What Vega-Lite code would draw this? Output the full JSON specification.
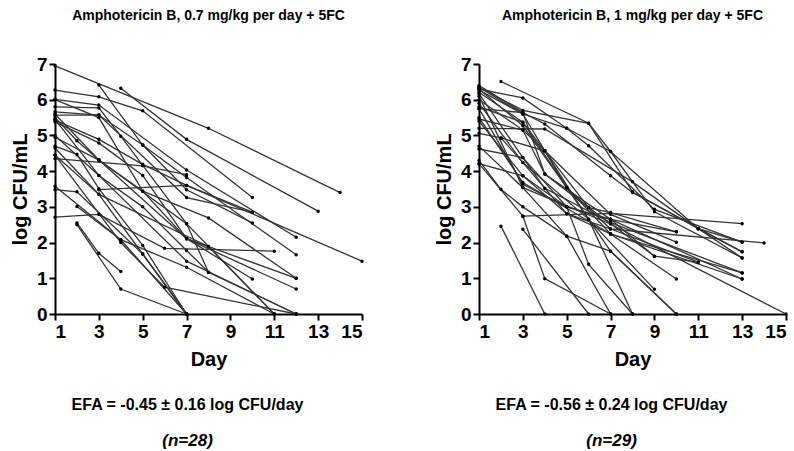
{
  "$schema": "https://vega.github.io/schema/vega-lite/v6.json",
  "padding": {"left": 10, "top": 9, "right": 0, "bottom": 0},
  "spacing": 69,
  "config": {
    "view": {"stroke": null},
    "font": "Liberation Sans",
    "axis": {
      "grid": false,
      "domainColor": "#000",
      "domainWidth": 2,
      "tickColor": "#000",
      "tickWidth": 2,
      "tickSize": 6,
      "labelColor": "#000",
      "labelFont": "Liberation Sans",
      "labelFontSize": 19,
      "labelFontWeight": "bold",
      "titleColor": "#000",
      "titleFont": "Liberation Sans",
      "titleFontSize": 20,
      "titleFontWeight": "bold"
    },
    "title": {"font": "Liberation Sans", "color": "#000"}
  },
  "datasets": {
    "left": [
      {"id": 1, "day": 1, "v": 6.95}, {"id": 1, "day": 8, "v": 5.2}, {"id": 1, "day": 14, "v": 3.4},
      {"id": 2, "day": 3, "v": 6.41}, {"id": 2, "day": 5, "v": 4.73}, {"id": 2, "day": 7, "v": 3.48}, {"id": 2, "day": 10, "v": 2.55},
      {"id": 3, "day": 4, "v": 6.32}, {"id": 3, "day": 7, "v": 4.89}, {"id": 3, "day": 13, "v": 2.88},
      {"id": 4, "day": 1, "v": 6.27}, {"id": 4, "day": 3, "v": 6.08}, {"id": 4, "day": 5, "v": 5.69}, {"id": 4, "day": 10, "v": 3.26},
      {"id": 5, "day": 1, "v": 6.01}, {"id": 5, "day": 3, "v": 5.85}, {"id": 5, "day": 7, "v": 4.03}, {"id": 5, "day": 12, "v": 2.15},
      {"id": 6, "day": 1, "v": 5.8}, {"id": 6, "day": 3, "v": 5.77}, {"id": 6, "day": 4, "v": 4.98}, {"id": 6, "day": 7, "v": 2.53}, {"id": 6, "day": 11, "v": 0},
      {"id": 7, "day": 1, "v": 5.66}, {"id": 7, "day": 3, "v": 5.57}, {"id": 7, "day": 5, "v": 4.73}, {"id": 7, "day": 7, "v": 3.82}, {"id": 7, "day": 12, "v": 1.66},
      {"id": 8, "day": 1, "v": 5.57}, {"id": 8, "day": 3, "v": 5.57}, {"id": 8, "day": 7, "v": 3.26}, {"id": 8, "day": 10, "v": 2.85},
      {"id": 9, "day": 1, "v": 5.43}, {"id": 9, "day": 3, "v": 4.89}, {"id": 9, "day": 5, "v": 4.19}, {"id": 9, "day": 7, "v": 3.6}, {"id": 9, "day": 15, "v": 1.48},
      {"id": 10, "day": 1, "v": 5.38}, {"id": 10, "day": 3, "v": 4.79}, {"id": 10, "day": 5, "v": 3.88}, {"id": 10, "day": 7, "v": 2.11}, {"id": 10, "day": 12, "v": 0.7},
      {"id": 11, "day": 1, "v": 5.5}, {"id": 11, "day": 2, "v": 4.85}, {"id": 11, "day": 3, "v": 4.31}, {"id": 11, "day": 5, "v": 3.44}, {"id": 11, "day": 8, "v": 2.69}, {"id": 11, "day": 12, "v": 1.0},
      {"id": 12, "day": 1, "v": 4.35}, {"id": 12, "day": 5, "v": 4.15}, {"id": 12, "day": 7, "v": 3.9},
      {"id": 13, "day": 1, "v": 5.0}, {"id": 13, "day": 3, "v": 3.88}, {"id": 13, "day": 5, "v": 3.0}, {"id": 13, "day": 7, "v": 1.78}, {"id": 13, "day": 8, "v": 1.17},
      {"id": 14, "day": 1, "v": 4.7}, {"id": 14, "day": 2, "v": 4.47}, {"id": 14, "day": 3, "v": 3.51}, {"id": 14, "day": 5, "v": 1.92}, {"id": 14, "day": 7, "v": 0},
      {"id": 15, "day": 1, "v": 4.45}, {"id": 15, "day": 3, "v": 3.35}, {"id": 15, "day": 5, "v": 1.68}, {"id": 15, "day": 7, "v": 0},
      {"id": 16, "day": 3, "v": 3.48}, {"id": 16, "day": 7, "v": 3.6}, {"id": 16, "day": 10, "v": 2.85},
      {"id": 17, "day": 1, "v": 3.48}, {"id": 17, "day": 2, "v": 3.42}, {"id": 17, "day": 5, "v": 1.68}, {"id": 17, "day": 7, "v": 0},
      {"id": 18, "day": 1, "v": 3.58}, {"id": 18, "day": 4, "v": 2.08}, {"id": 18, "day": 7, "v": 0},
      {"id": 19, "day": 1, "v": 2.71}, {"id": 19, "day": 3, "v": 2.79}, {"id": 19, "day": 6, "v": 1.84}, {"id": 19, "day": 11, "v": 1.76},
      {"id": 20, "day": 2, "v": 3.01}, {"id": 20, "day": 4, "v": 2.08}, {"id": 20, "day": 7, "v": 1.31}, {"id": 20, "day": 11, "v": 0},
      {"id": 21, "day": 2, "v": 2.55}, {"id": 21, "day": 3, "v": 1.7}, {"id": 21, "day": 4, "v": 1.19},
      {"id": 22, "day": 2, "v": 2.5}, {"id": 22, "day": 4, "v": 0.7}, {"id": 22, "day": 7, "v": 0},
      {"id": 23, "day": 1, "v": 5.6}, {"id": 23, "day": 3, "v": 4.31}, {"id": 23, "day": 7, "v": 2.11}, {"id": 23, "day": 10, "v": 0.98},
      {"id": 24, "day": 1, "v": 5.45}, {"id": 24, "day": 3, "v": 3.88}, {"id": 24, "day": 7, "v": 1.48}, {"id": 24, "day": 12, "v": 0},
      {"id": 25, "day": 1, "v": 4.65}, {"id": 25, "day": 3, "v": 3.35}, {"id": 25, "day": 8, "v": 1.89}, {"id": 25, "day": 11, "v": 0},
      {"id": 26, "day": 1, "v": 4.95}, {"id": 26, "day": 3, "v": 4.31}, {"id": 26, "day": 7, "v": 2.53}, {"id": 26, "day": 8, "v": 1.17}, {"id": 26, "day": 12, "v": 0},
      {"id": 27, "day": 1, "v": 4.45}, {"id": 27, "day": 4, "v": 2.0}, {"id": 27, "day": 6, "v": 0.75}, {"id": 27, "day": 12, "v": 0},
      {"id": 28, "day": 1, "v": 6.0}, {"id": 28, "day": 3, "v": 5.5}, {"id": 28, "day": 5, "v": 3.44}, {"id": 28, "day": 7, "v": 2.11}, {"id": 28, "day": 12, "v": 1.0}
    ],
    "right": [
      {"id": 1, "day": 2, "v": 6.51}, {"id": 1, "day": 6, "v": 5.34}, {"id": 1, "day": 7, "v": 4.55}, {"id": 1, "day": 9, "v": 2.86}, {"id": 1, "day": 13, "v": 1.57},
      {"id": 2, "day": 1, "v": 6.3}, {"id": 2, "day": 3, "v": 6.05}, {"id": 2, "day": 5, "v": 5.2}, {"id": 2, "day": 7, "v": 4.55}, {"id": 2, "day": 11, "v": 2.39}, {"id": 2, "day": 13, "v": 2.01},
      {"id": 3, "day": 1, "v": 6.4}, {"id": 3, "day": 3, "v": 5.64}, {"id": 3, "day": 4, "v": 5.32}, {"id": 3, "day": 7, "v": 3.87}, {"id": 3, "day": 8, "v": 3.4}, {"id": 3, "day": 13, "v": 1.74},
      {"id": 4, "day": 1, "v": 6.27}, {"id": 4, "day": 3, "v": 5.6}, {"id": 4, "day": 5, "v": 5.2}, {"id": 4, "day": 6, "v": 4.71}, {"id": 4, "day": 9, "v": 2.93}, {"id": 4, "day": 13, "v": 2.01},
      {"id": 5, "day": 1, "v": 6.21}, {"id": 5, "day": 3, "v": 5.37}, {"id": 5, "day": 5, "v": 3.54}, {"id": 5, "day": 7, "v": 2.24}, {"id": 5, "day": 13, "v": 1.15},
      {"id": 6, "day": 1, "v": 6.17}, {"id": 6, "day": 3, "v": 4.38}, {"id": 6, "day": 5, "v": 3.0}, {"id": 6, "day": 7, "v": 2.65}, {"id": 6, "day": 13, "v": 0.98},
      {"id": 7, "day": 1, "v": 5.75}, {"id": 7, "day": 3, "v": 5.64}, {"id": 7, "day": 4, "v": 3.92}, {"id": 7, "day": 6, "v": 2.98}, {"id": 7, "day": 7, "v": 2.84}, {"id": 7, "day": 10, "v": 2.3},
      {"id": 8, "day": 1, "v": 5.2}, {"id": 8, "day": 4, "v": 5.18}, {"id": 8, "day": 8, "v": 3.7}, {"id": 8, "day": 11, "v": 2.39}, {"id": 8, "day": 13, "v": 1.74},
      {"id": 9, "day": 1, "v": 5.46}, {"id": 9, "day": 3, "v": 5.15}, {"id": 9, "day": 4, "v": 4.57}, {"id": 9, "day": 7, "v": 2.79}, {"id": 9, "day": 10, "v": 2.01},
      {"id": 10, "day": 1, "v": 5.06}, {"id": 10, "day": 2, "v": 4.93}, {"id": 10, "day": 3, "v": 4.24}, {"id": 10, "day": 5, "v": 2.81}, {"id": 10, "day": 7, "v": 2.38}, {"id": 10, "day": 11, "v": 1.45},
      {"id": 11, "day": 1, "v": 4.62}, {"id": 11, "day": 3, "v": 4.38}, {"id": 11, "day": 4, "v": 3.52}, {"id": 11, "day": 7, "v": 2.56}, {"id": 11, "day": 13, "v": 1.15},
      {"id": 12, "day": 1, "v": 4.21}, {"id": 12, "day": 3, "v": 3.87}, {"id": 12, "day": 5, "v": 3.0}, {"id": 12, "day": 6, "v": 1.39}, {"id": 12, "day": 8, "v": 0},
      {"id": 13, "day": 1, "v": 4.3}, {"id": 13, "day": 2, "v": 3.49}, {"id": 13, "day": 3, "v": 3.0}, {"id": 13, "day": 5, "v": 2.18}, {"id": 13, "day": 7, "v": 1.76}, {"id": 13, "day": 10, "v": 0},
      {"id": 14, "day": 2, "v": 2.46}, {"id": 14, "day": 4, "v": 0},
      {"id": 15, "day": 3, "v": 2.37}, {"id": 15, "day": 6, "v": 0},
      {"id": 16, "day": 1, "v": 4.21}, {"id": 16, "day": 3, "v": 2.74}, {"id": 16, "day": 4, "v": 0.99}, {"id": 16, "day": 7, "v": 0},
      {"id": 17, "day": 3, "v": 2.74}, {"id": 17, "day": 7, "v": 2.82}, {"id": 17, "day": 13, "v": 2.53},
      {"id": 18, "day": 1, "v": 6.3}, {"id": 18, "day": 3, "v": 5.27}, {"id": 18, "day": 5, "v": 3.54}, {"id": 18, "day": 7, "v": 2.38}, {"id": 18, "day": 14, "v": 1.99},
      {"id": 19, "day": 1, "v": 5.75}, {"id": 19, "day": 3, "v": 3.63}, {"id": 19, "day": 5, "v": 3.0}, {"id": 19, "day": 7, "v": 2.65}, {"id": 19, "day": 9, "v": 1.62}, {"id": 19, "day": 11, "v": 1.45},
      {"id": 20, "day": 1, "v": 6.35}, {"id": 20, "day": 3, "v": 5.6}, {"id": 20, "day": 5, "v": 3.54}, {"id": 20, "day": 7, "v": 1.76}, {"id": 20, "day": 10, "v": 0},
      {"id": 21, "day": 1, "v": 5.9}, {"id": 21, "day": 3, "v": 4.24}, {"id": 21, "day": 6, "v": 2.65}, {"id": 21, "day": 9, "v": 0.69},
      {"id": 22, "day": 1, "v": 6.1}, {"id": 22, "day": 3, "v": 3.54}, {"id": 22, "day": 5, "v": 2.18}, {"id": 22, "day": 7, "v": 0},
      {"id": 23, "day": 1, "v": 5.5}, {"id": 23, "day": 3, "v": 3.68}, {"id": 23, "day": 7, "v": 2.24}, {"id": 23, "day": 10, "v": 0.98},
      {"id": 24, "day": 1, "v": 4.7}, {"id": 24, "day": 3, "v": 3.54}, {"id": 24, "day": 7, "v": 2.52}, {"id": 24, "day": 15, "v": 0},
      {"id": 25, "day": 1, "v": 6.35}, {"id": 25, "day": 3, "v": 5.7}, {"id": 25, "day": 6, "v": 5.34}, {"id": 25, "day": 8, "v": 3.42}, {"id": 25, "day": 11, "v": 2.39}, {"id": 25, "day": 13, "v": 1.57},
      {"id": 26, "day": 1, "v": 5.4}, {"id": 26, "day": 3, "v": 3.87}, {"id": 26, "day": 5, "v": 2.81}, {"id": 26, "day": 7, "v": 2.24}, {"id": 26, "day": 13, "v": 0.98},
      {"id": 27, "day": 2, "v": 4.93}, {"id": 27, "day": 4, "v": 4.57}, {"id": 27, "day": 6, "v": 2.98}, {"id": 27, "day": 9, "v": 1.62},
      {"id": 28, "day": 1, "v": 6.0}, {"id": 28, "day": 3, "v": 5.15}, {"id": 28, "day": 4, "v": 3.92}, {"id": 28, "day": 7, "v": 2.65}, {"id": 28, "day": 10, "v": 2.3},
      {"id": 29, "day": 1, "v": 5.8}, {"id": 29, "day": 3, "v": 5.37}, {"id": 29, "day": 4, "v": 4.57}, {"id": 29, "day": 6, "v": 2.65}, {"id": 29, "day": 8, "v": 0}
    ]
  },
  "hconcat": [
    {
      "title": {"text": "EFA = -0.45 ± 0.16 log CFU/day", "subtitle": "(n=28)", "orient": "bottom", "anchor": "middle", "fontSize": 16, "fontWeight": "bold", "offset": 28, "subtitleFont": "Liberation Sans", "subtitleFontSize": 17, "subtitleFontWeight": "bold", "subtitleFontStyle": "italic", "subtitleColor": "#000", "subtitlePadding": 20},
      "vconcat": [
        {
          "title": {"text": "Amphotericin B, 0.7 mg/kg per day + 5FC", "fontSize": 14, "fontWeight": "bold", "anchor": "middle", "offset": 32},
          "width": 307,
          "height": 250,
          "data": {"name": "left"},
          "encoding": {
            "x": {"field": "day", "type": "quantitative", "scale": {"domain": [1, 15], "nice": false, "zero": false}, "axis": {"values": [1, 3, 5, 7, 9, 11, 13, 15], "title": "Day", "titlePadding": 8}},
            "y": {"field": "v", "type": "quantitative", "scale": {"domain": [0, 7], "nice": false}, "axis": {"values": [0, 1, 2, 3, 4, 5, 6, 7], "title": "log CFU/mL", "titlePadding": 6}},
            "detail": {"field": "id", "type": "nominal"}
          },
          "layer": [
            {"mark": {"type": "line", "color": "#333", "strokeWidth": 1.3}},
            {"mark": {"type": "point", "filled": true, "color": "#000", "size": 12, "opacity": 1}}
          ]
        }
      ]
    },
    {
      "title": {"text": "EFA = -0.56 ± 0.24 log CFU/day", "subtitle": "(n=29)", "orient": "bottom", "anchor": "middle", "fontSize": 16, "fontWeight": "bold", "offset": 28, "subtitleFont": "Liberation Sans", "subtitleFontSize": 17, "subtitleFontWeight": "bold", "subtitleFontStyle": "italic", "subtitleColor": "#000", "subtitlePadding": 20},
      "vconcat": [
        {
          "title": {"text": "Amphotericin B, 1 mg/kg per day + 5FC", "fontSize": 14, "fontWeight": "bold", "anchor": "middle", "offset": 32},
          "width": 307,
          "height": 250,
          "data": {"name": "right"},
          "encoding": {
            "x": {"field": "day", "type": "quantitative", "scale": {"domain": [1, 15], "nice": false, "zero": false}, "axis": {"values": [1, 3, 5, 7, 9, 11, 13, 15], "title": "Day", "titlePadding": 8}},
            "y": {"field": "v", "type": "quantitative", "scale": {"domain": [0, 7], "nice": false}, "axis": {"values": [0, 1, 2, 3, 4, 5, 6, 7], "title": "log CFU/mL", "titlePadding": 6}},
            "detail": {"field": "id", "type": "nominal"}
          },
          "layer": [
            {"mark": {"type": "line", "color": "#333", "strokeWidth": 1.3}},
            {"mark": {"type": "point", "filled": true, "color": "#000", "size": 12, "opacity": 1}}
          ]
        }
      ]
    }
  ]
}
